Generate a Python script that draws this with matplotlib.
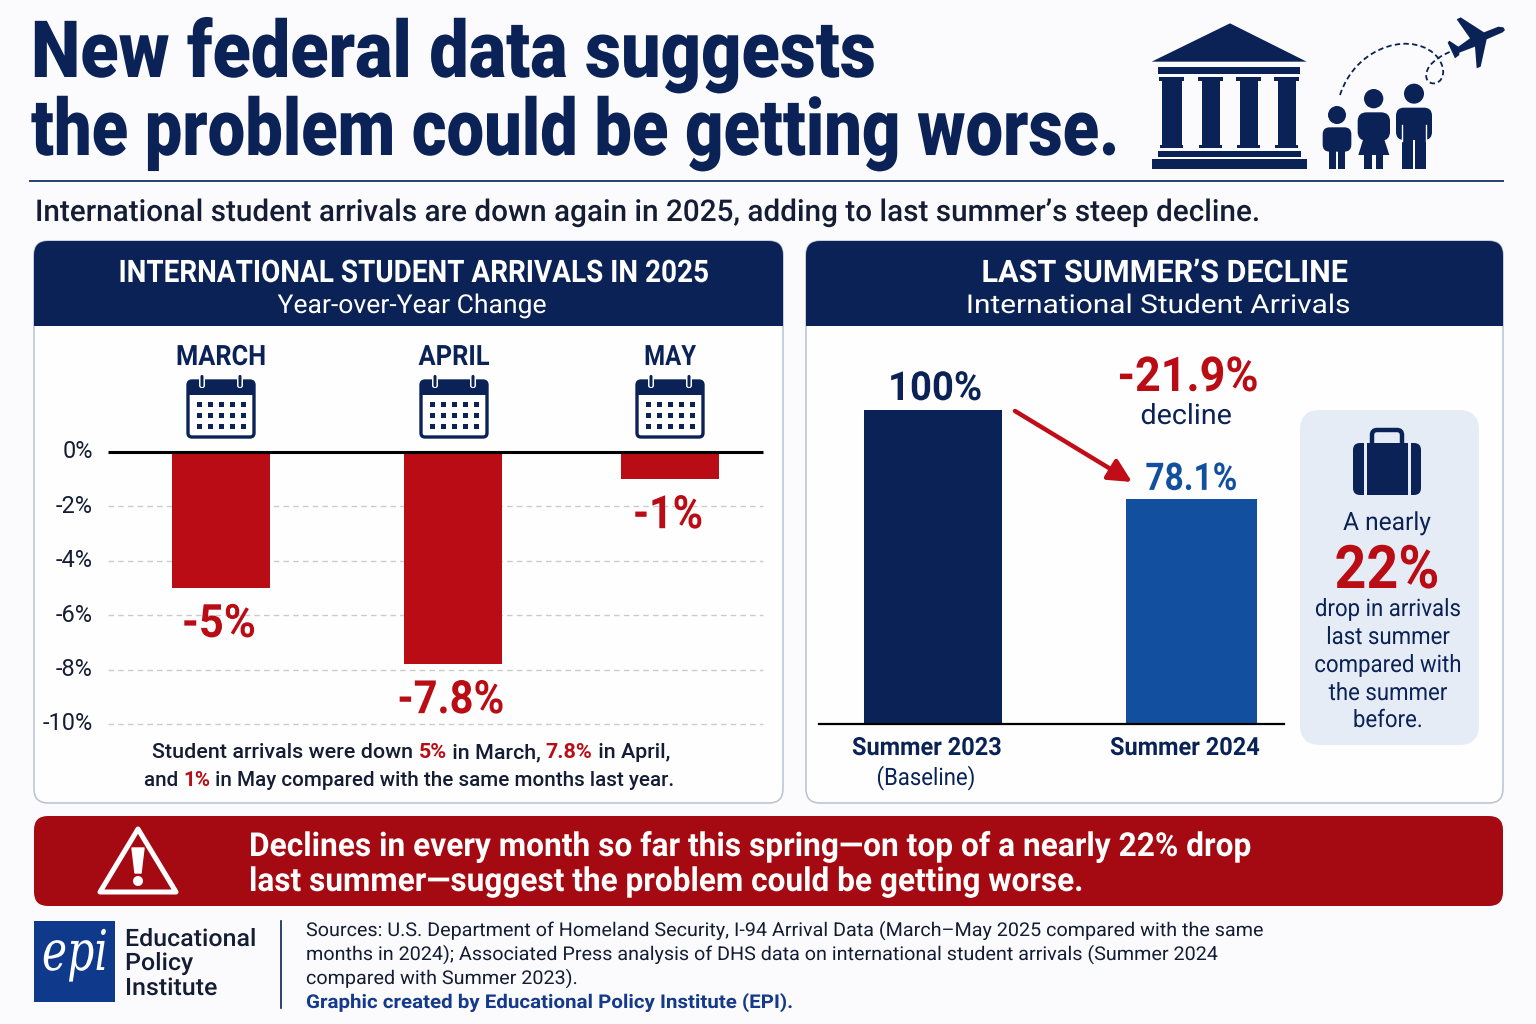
#plot.py
import matplotlib
matplotlib.use("Agg")
import matplotlib.pyplot as plt
from matplotlib.patches import Polygon, Rectangle, Circle, FancyBboxPatch, PathPatch
from matplotlib.path import Path
from matplotlib.patheffects import AbstractPathEffect
from matplotlib.transforms import Affine2D, ScaledTranslation

#data
months = ['MARCH', 'APRIL', 'MAY']
yoy_change = [-5, -7.8, -1]
yoy_labels = ['-5%', '-7.8%', '-1%']
yoy_ticks = [0, -2, -4, -6, -8, -10]

summers = ['Summer 2023', 'Summer 2024']
# bar heights as drawn in the picture (second bar is not to scale with its label)
summer_heights = [100, 71.7]
summer_labels = ['100%', '78.1%']

#colors
NAVY = '#0A2256'
RED = '#B90C14'
DARKRED = '#A50A12'
BLUE = '#12509F'
INK = '#141D33'
BG = '#FBFBFD'

BODY = ['Roboto', 'DejaVu Sans']
W, H = 1536, 1024

fig = plt.figure(figsize=(W/100, H/100), dpi=100, facecolor=BG)
bg = fig.add_axes([0, 0, 1, 1])
bg.set_xlim(0, W)
bg.set_ylim(H, 0)
bg.axis('off')


class Squeeze(AbstractPathEffect):
    # narrow (or widen) the glyphs of a text, no condensed font is installed
    def __init__(self, sx, mid=False):
        super().__init__()
        self.sx = sx
        self.mid = mid

    def draw_path(self, renderer, gc, tpath, affine, rgbFace=None):
        x0 = 0
        if self.mid:
            e = tpath.get_extents()
            x0 = (e.x0 + e.x1)/2
        tr = Affine2D().translate(-x0, 0).scale(self.sx, 1).translate(x0, 0)
        renderer.draw_path(gc, tpath, tr + affine, rgbFace)


def fit(t, width=None, sx=None):
    if width is not None:
        sx = width/t.get_window_extent(fig.canvas.get_renderer()).width
    t.set_path_effects([Squeeze(sx, mid=t.get_ha() == 'center')])
    return t


def px(size):
    return size*0.72


def txt(x, y, s, size, color=INK, weight='normal', ha='left', va='baseline', family=BODY,
        width=None, sx=None, **kw):
    t = bg.text(x, y, s, fontsize=px(size), color=color, fontweight=weight, ha=ha,
                va=va, family=family, **kw)
    if width is not None or sx is not None:
        fit(t, width, sx)
    return t


def rich_line(cx, y, parts, size, weight='medium'):
    # one centred line with coloured pieces
    r = fig.canvas.get_renderer()
    items = [txt(0, y, s, size, color=c, weight=w or weight) for s, c, w in parts]
    widths = [t.get_window_extent(r).width for t in items]
    x = cx - sum(widths)/2
    for t, w in zip(items, widths):
        t.set_x(x)
        x += w


def rect(x0, y0, x1, y1, color=NAVY, z=3):
    bg.add_patch(Rectangle((x0, y0), x1-x0, y1-y0, fc=color, ec='none', zorder=z))


def rbox(x0, y0, x1, y1, r, fc=NAVY, ec='none', lw=0, z=3):
    bg.add_patch(FancyBboxPatch((x0+r, y0+r), x1-x0-2*r, y1-y0-2*r,
                                boxstyle='round,pad=%f,rounding_size=%f' % (r, r),
                                fc=fc, ec=ec, lw=lw, zorder=z))


#title
txt(31, 77, 'New federal data suggests', 79, color=NAVY, weight=900, width=844)
txt(31, 155, 'the problem could be getting worse.', 79, color=NAVY, weight=900, width=1087)
bg.plot([30, 1503], [181, 181], color='#24406F', lw=1.4)
txt(35, 221, 'International student arrivals are down again in 2025, adding to last summer\u2019s steep decline.',
    30, weight='medium', width=1225)


#icons, coordinates taken from the 3x crop
def zx(v):
    return 1130 + v/3


def zy(v):
    return v/3


def zrect(x0, y0, x1, y1, color=NAVY):
    rect(zx(x0), zy(y0), zx(x1), zy(y1), color)


def zbox(x0, y0, x1, y1, r):
    rbox(zx(x0), zy(y0), zx(x1), zy(y1), r)


def zpoly(pts, color=NAVY):
    bg.add_patch(Polygon([(zx(a), zy(b)) for a, b in pts], closed=True, fc=color, ec='none', zorder=3))


def zcirc(x, y, r):
    bg.add_patch(Circle((zx(x), zy(y)), r/3, fc=NAVY, ec='none', zorder=3))


zpoly([(65, 185), (300, 70), (530, 185)])
zrect(83, 200, 511, 221)
for a, b, c, d in [(87, 97, 155, 162), (205, 215, 270, 279), (319, 330, 385, 393), (433, 443, 498, 508)]:
    zrect(a, 231, d, 244)
    zrect(b, 244, c, 435)
    zrect(a+3, 435, d-3, 444)
zrect(83, 453, 513, 471)
zrect(65, 478, 531, 507)

# child
zcirc(621, 345, 27)
zbox(578, 382, 664, 455, 7)
zrect(597, 440, 618, 507)
zrect(624, 440, 645, 507)
# woman
zcirc(731, 296, 29)
zbox(683, 337, 780, 422, 9)
zpoly([(705, 400), (757, 400), (778, 465), (685, 465)])
zrect(703, 460, 725, 507)
zrect(737, 460, 760, 507)
# man
zcirc(852, 281, 30)
zbox(798, 323, 906, 420, 8)
zrect(817, 400, 848, 507)
zrect(856, 400, 888, 507)
bg.plot([zx(815), zx(815)], [zy(375), zy(422)], color=BG, lw=1, zorder=4)
bg.plot([zx(889), zx(889)], [zy(375), zy(422)], color=BG, lw=1, zorder=4)

# flight path and plane
flight = [(630, 285), (680, 130), (860, 90), (925, 175), (960, 225), (925, 265), (895, 245),
          (875, 220), (900, 175), (975, 150)]
codes = [Path.MOVETO] + [Path.CURVE4]*9
bg.add_patch(PathPatch(Path([(zx(a), zy(b)) for a, b in flight], codes), fc='none', ec=NAVY, lw=1.3,
                       ls=(0, (3, 1.8)), zorder=3))
zpoly([(1120, 82), (1105, 80), (1062, 97), (992, 52), (980, 58), (1020, 115), (985, 140), (958, 122),
       (953, 128), (975, 175), (988, 165), (988, 158), (1035, 140), (1040, 205), (1052, 200),
       (1070, 118), (1118, 97), (1125, 90)])


#cards
def card(x0, x1, title, sub, cx_title, w_title, cx_sub, w_sub):
    rbox(x0, 241, x1, 803, 14, fc='#FEFEFE', ec='#B9C1D2', lw=1.1, z=1)
    rbox(x0, 241, x1, 326, 14, z=2)
    rect(x0, 290, x1, 326, z=2)
    txt(cx_title, 282, title, 31, color='white', weight='bold', ha='center', width=w_title, zorder=5)
    txt(cx_sub, 313, sub, 26, color='white', ha='center', width=w_sub, zorder=5)


card(34, 783, 'INTERNATIONAL STUDENT ARRIVALS IN 2025', 'Year-over-Year Change', 414, 591, 412, 269)
card(806, 1503, 'LAST SUMMER\u2019S DECLINE', 'International Student Arrivals', 1165, 367, 1158, 384)


def calendar(cx):
    x0, x1 = cx-33, cx+33
    rbox(x0, 381, x1, 437, 4, fc='white', ec=NAVY, lw=2.4)
    rbox(x0, 381, x1, 395, 4)
    rect(x0, 390, x1, 395)
    for rx in (cx-19, cx+19):
        rbox(rx-3, 374, rx+3, 388, 2.5, fc='white', z=4)
        rbox(rx-1.5, 375, rx+1.5, 387, 1.4, z=5)
    for row in (404, 415, 426):
        for col in (-22, -11, 0, 11, 22):
            rect(cx+col-2.5, row-2.5, cx+col+2.5, row+2.5)


#left chart
month_x = [0, 1.033, 2]
ax = fig.add_axes([108/W, 1-724/H, (763-108)/W, (724-452)/H])
ax.patch.set_visible(False)
ax.set_xlim(-0.503, 2.414)
ax.set_ylim(-10, 0)
ax.bar(month_x, yoy_change, width=0.437, color=RED, zorder=3)
ax.set_yticks(yoy_ticks)
ax.set_yticklabels(['%d%%' % t for t in yoy_ticks], fontsize=px(23.5), color=INK, family=BODY)
ax.set_xticks([])
ax.tick_params(axis='y', length=0, pad=px(15))
shift = ScaledTranslation(0, 2.5/100, fig.dpi_scale_trans)
for lab in ax.get_yticklabels():
    lab.set_transform(lab.get_transform() + shift)
for s in ax.spines.values():
    s.set_visible(False)
for t in yoy_ticks[1:]:
    ax.axhline(t, color='#C9CBD0', lw=1, ls=(0, (4, 3)), zorder=1, clip_on=False)
ax.axhline(0, color='black', lw=2.2, zorder=4, clip_on=False, solid_capstyle='butt')
label_widths = [74, 107, 70]
for i in range(len(months)):
    lab = ax.annotate(yoy_labels[i], (month_x[i], yoy_change[i]), xytext=(px(-2), px(-49)),
                      textcoords='offset points', ha='center', va='baseline', fontsize=px(46),
                      color=RED, fontweight='bold', family=BODY)
    fit(lab, width=label_widths[i])
for m, cx, wd in zip(months, (221, 454, 670), (90, 71, 52)):
    txt(cx, 365, m, 28, color=NAVY, weight='bold', ha='center', width=wd)
    calendar(cx)

rich_line(411, 758, [('Student arrivals were down ', INK, None), ('5%', RED, 'bold'), (' in March, ', INK, None),
                     ('7.8%', RED, 'bold'), (' in April,', INK, None)], 21.5)
rich_line(409, 786, [('and ', INK, None), ('1%', RED, 'bold'),
                     (' in May compared with the same months last year.', INK, None)], 20.7)

#right chart
ax2 = fig.add_axes([819/W, 1-724/H, (1284-819)/W, (724-410)/H])
ax2.patch.set_visible(False)
ax2.set_xlim(-0.441, 1.358)
ax2.set_ylim(0, 100)
ax2.bar([0, 1], summer_heights, width=[0.534, 0.507], color=[NAVY, BLUE])
ax2.set_xticks([])
ax2.set_yticks([])
for s in ['top', 'left', 'right']:
    ax2.spines[s].set_visible(False)
ax2.spines['bottom'].set_linewidth(1.6)
lab = ax2.annotate(summer_labels[0], (0, summer_heights[0]), xytext=(px(2), px(10)), textcoords='offset points',
                   ha='center', va='baseline', fontsize=px(40), color=NAVY, fontweight='bold', family=BODY,
                   annotation_clip=False)
fit(lab, width=94)
lab = ax2.annotate(summer_labels[1], (1, summer_heights[1]), xytext=(0, px(9)), textcoords='offset points',
                   ha='center', va='baseline', fontsize=px(38), color=BLUE, fontweight='bold', family=BODY)
fit(lab, width=92)

txt(927, 755, summers[0], 25, color=NAVY, weight='bold', ha='center', width=150)
txt(926, 785, '(Baseline)', 24, color=NAVY, ha='center', width=99)
txt(1185, 755, summers[1], 25, color=NAVY, weight='bold', ha='center', width=150)
txt(1188, 391, '-21.9%', 48, color=RED, weight='bold', ha='center', width=141)
txt(1186, 424, 'decline', 28, color=NAVY, ha='center', width=91)
bg.annotate('', xy=(1132, 482), xytext=(1015, 411), zorder=6,
            arrowprops=dict(arrowstyle='-|>,head_length=1.4,head_width=0.7', color='#C00D17', lw=3.2, shrinkA=0, shrinkB=0))

#side box
rbox(1300, 410, 1479, 745, 20, fc='#E6ECF5', z=2)
rbox(1372, 430, 1402, 455, 5, fc='none', ec=NAVY, lw=3.2)
rbox(1353, 443, 1421, 495, 7)
for sx in (1365, 1409):
    rect(sx-1.5, 443, sx+1.5, 495, color='#E6ECF5', z=4)
txt(1387, 530, 'A nearly', 25, ha='center', color=NAVY, zorder=5, width=88)
txt(1387, 588, '22%', 60, ha='center', color=RED, weight='bold', width=105, zorder=5)
for y, s in zip((616, 644, 672, 700, 727),
                ('drop in arrivals', 'last summer', 'compared with', 'the summer', 'before.')):
    txt(1388, y, s, 24, ha='center', color=NAVY, zorder=5, sx=0.925)

#banner
rbox(34, 816, 1503, 906, 14, fc=DARKRED, z=2)
bg.add_patch(Polygon([(138, 829), (100, 892), (176, 892)], closed=True, fc='none', ec='white', lw=3.6,
                     joinstyle='round', zorder=4))
bg.add_patch(Polygon([(132, 848), (144, 848), (141, 873), (135, 873)], closed=True, fc='white', ec='white',
                     lw=1, joinstyle='round', zorder=4))
bg.add_patch(Circle((138, 881), 5, fc='white', ec='none', zorder=4))
txt(249, 856, 'Declines in every month so far this spring\u2014on top of a nearly 22% drop', 33, color='white',
    weight='bold', zorder=5, width=1003)
txt(249, 891, 'last summer\u2014suggest the problem could be getting worse.', 33, color='white',
    weight='bold', zorder=5, width=834)

#footer
rect(34, 921, 115, 1002, color='#0F3A8C')
txt(75, 970, 'epi', 56, color='white', ha='center', family=['DejaVu Serif'], style='italic', zorder=5, width=66)
for y, s in zip((946, 970, 995), ('Educational', 'Policy', 'Institute')):
    txt(125, y, s, 24, color=INK, weight='medium', sx=1.04)
bg.plot([281, 281], [921, 1008], color=NAVY, lw=1.2)
for y, s in zip((936, 960, 984),
                ('Sources: U.S. Department of Homeland Security, I-94 Arrival Data (March\u2013May 2025 compared with the same',
                 'months in 2024); Associated Press analysis of DHS data on international student arrivals (Summer 2024',
                 'compared with Summer 2023).')):
    txt(306, y, s, 19, color=INK, sx=1.04)
txt(306, 1008, 'Graphic created by Educational Policy Institute (EPI).', 19, color='#153A8B', weight='bold', sx=1.08)

plt.savefig('out.png', dpi=100, facecolor=BG)
